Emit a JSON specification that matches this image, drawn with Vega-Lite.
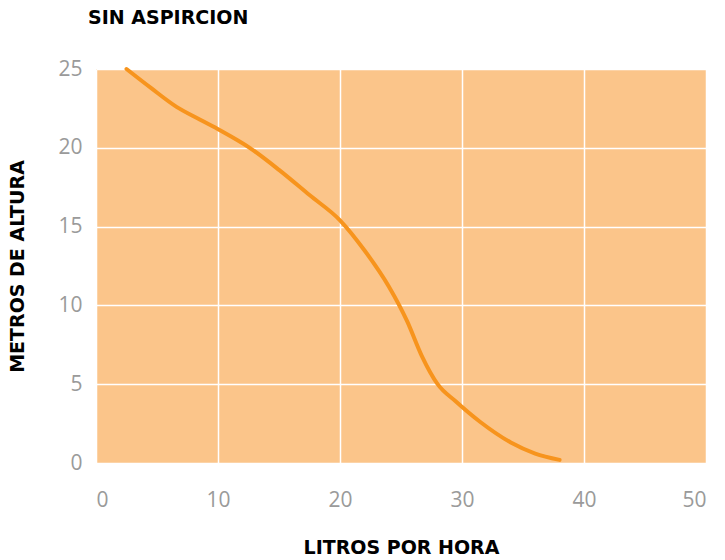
{
  "$schema": "https://vega.github.io/schema/vega-lite/v6.json",
  "autosize": "none",
  "width": 610,
  "height": 394,
  "padding": {"left": 96, "top": 69, "right": 19, "bottom": 97},
  "background": "white",
  "title": {
    "text": "SIN ASPIRCION",
    "anchor": "start",
    "frame": "group",
    "dx": -8,
    "offset": 30,
    "font": "DejaVu Sans",
    "fontSize": 19,
    "fontWeight": "bold",
    "color": "#000000"
  },
  "config": {
    "view": {"fill": "#FBC58A", "stroke": null},
    "axis": {
      "domain": false,
      "ticks": false,
      "grid": true,
      "gridColor": "#FFFFFF",
      "gridWidth": 1.5,
      "labelFont": "Open Sans",
      "labelFontSize": 21,
      "labelColor": "#9A9A9A",
      "titleFont": "DejaVu Sans",
      "titleFontSize": 19,
      "titleFontWeight": "bold",
      "titleColor": "#000000"
    }
  },
  "data": {
    "values": [
      {"l": 2.5, "m": 25},
      {"l": 4.5, "m": 23.8},
      {"l": 6.6, "m": 22.6},
      {"l": 8.5, "m": 21.8},
      {"l": 10.2, "m": 21.1},
      {"l": 12.6, "m": 20},
      {"l": 15, "m": 18.6},
      {"l": 17.5, "m": 17},
      {"l": 20, "m": 15.4},
      {"l": 22, "m": 13.5},
      {"l": 24, "m": 11.2},
      {"l": 25.5, "m": 9},
      {"l": 26.7, "m": 6.8},
      {"l": 28, "m": 5},
      {"l": 29.5, "m": 3.9},
      {"l": 31.5, "m": 2.6},
      {"l": 34, "m": 1.3},
      {"l": 36, "m": 0.6},
      {"l": 38, "m": 0.2}
    ]
  },
  "mark": {"type": "line", "interpolate": "monotone", "color": "#F7941D", "strokeWidth": 4, "strokeCap": "round"},
  "encoding": {
    "x": {
      "field": "l",
      "type": "quantitative",
      "scale": {"domain": [0, 50], "nice": false},
      "axis": {"values": [0, 10, 20, 30, 40, 50], "title": "LITROS POR HORA", "labelPadding": 26, "titlePadding": 28}
    },
    "y": {
      "field": "m",
      "type": "quantitative",
      "scale": {"domain": [0, 25], "nice": false},
      "axis": {"values": [0, 5, 10, 15, 20, 25], "title": "METROS DE ALTURA", "labelPadding": 14, "titlePadding": 30}
    }
  }
}
